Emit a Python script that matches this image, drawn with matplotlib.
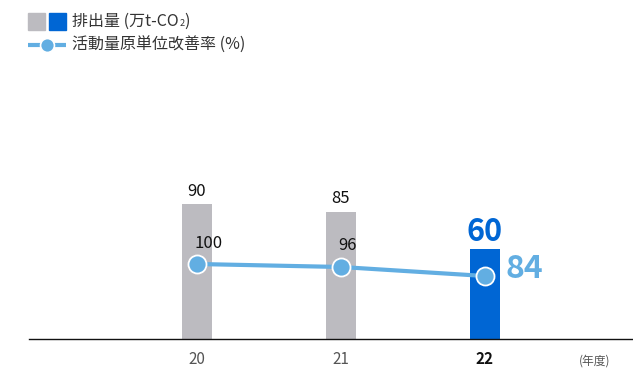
import matplotlib
matplotlib.use("Agg")
import matplotlib.pyplot as plt
from matplotlib.patches import Rectangle
from matplotlib.lines import Line2D

plt.rcParams['font.family'] = ['Noto Sans CJK JP', 'DejaVu Sans']

# Data
years = ["20", "21", "22"]
emissions = [90, 85, 60]          # 排出量 (万t-CO2)
improvement = [100, 96, 84]       # 活動量原単位改善率 (%)

GRAY = "#BCBBC0"
BLUE = "#0066D4"
LIGHT = "#62AEE2"
TEXT = "#333333"

W, H = 633, 371
fig = plt.figure(figsize=(W / 100, H / 100), dpi=100)

# main axes: x from px 29 to 633, y baseline at px 339, top at px 189
left, right = 29, 633
bottom, top = 339, 189
ax = fig.add_axes([left / W, 1 - bottom / H, (right - left) / W, (bottom - top) / H])
step = 144
x = list(range(len(years)))
ax.set_xlim(-(197 - left) / step, 2 + (right - 485) / step)
ax.set_ylim(0, 100)

colors = [GRAY, GRAY, BLUE]
ax.bar(x, emissions, width=30 / step, color=colors, zorder=2)

for spine in ["top", "right", "left"]:
    ax.spines[spine].set_visible(False)
ax.spines["bottom"].set_linewidth(1.0)
ax.spines["bottom"].set_color("#111111")
ax.set_yticks([])
ax.set_xticks(x)
ax.set_xticklabels(years, fontsize=11, color="#555555")
ax.tick_params(axis="x", length=0, pad=9)
ax.get_xticklabels()[-1].set_fontweight("bold")
ax.get_xticklabels()[-1].set_color("#111111")

# bar value labels
for i, v in enumerate(emissions[:-1]):
    ax.annotate(str(v), (x[i], v), xytext=(0, 3), textcoords="offset points",
                ha="center", va="bottom", fontsize=12, color="#111111")
ax.annotate(str(emissions[-1]), (x[-1], emissions[-1]), xytext=(0, 1),
            textcoords="offset points", ha="center", va="bottom",
            fontsize=22, fontweight="bold", color=BLUE)

# line on a twin scale (0-200)
ax2 = ax.twinx()
ax2.set_ylim(0, 200)
ax2.axis("off")
ax2.plot(x, improvement, color=LIGHT, lw=3, marker="o", markersize=13,
         markerfacecolor=LIGHT, markeredgecolor="white", markeredgewidth=1.3,
         zorder=3, solid_capstyle="butt")

for i, v in enumerate(improvement[:-1]):
    ax2.annotate(str(v), (x[i], v), xytext=(-2, 9), textcoords="offset points",
                 ha="left", va="bottom", fontsize=12, color="#111111")
ax2.annotate(str(improvement[-1]), (x[-1], improvement[-1]), xytext=(15, 5),
             textcoords="offset points", ha="left", va="center",
             fontsize=23, fontweight="bold", color=LIGHT)

# unit label
fig.text(595 / W, 1 - 361 / H, "(年度)", fontsize=8.5, color="#555555",
         ha="center", va="center")

# legend drawn in pixel coordinates
lg = fig.add_axes([0, 0, 1, 1], zorder=5)
lg.set_xlim(0, W)
lg.set_ylim(H, 0)
lg.axis("off")
lg.add_patch(Rectangle((28, 13), 17, 17, color=GRAY))
lg.add_patch(Rectangle((49, 13), 17, 17, color=BLUE))
t1 = lg.text(72, 21, "排出量 (万t-CO", fontsize=11.5, color=TEXT,
             ha="left", va="center")
renderer = fig.canvas.get_renderer()
bb = t1.get_window_extent(renderer)
x_end = bb.x1  # display px, same as figure px here
t2 = lg.text(x_end + 0.5, 24, "2", fontsize=6.5, color=TEXT, ha="left", va="center")
bb2 = t2.get_window_extent(renderer)
lg.text(bb2.x1 + 0.5, 21, ")", fontsize=11.5, color=TEXT, ha="left", va="center")
lg.add_line(Line2D([28, 66], [45, 45], color=LIGHT, lw=3, solid_capstyle="butt"))
lg.add_line(Line2D([47], [45], marker="o", markersize=10, color=LIGHT,
                   markeredgecolor="white", markeredgewidth=1.2))
lg.text(72, 45, "活動量原単位改善率 (%)", fontsize=11.5, color=TEXT,
        ha="left", va="center")

fig.savefig("out.png", dpi=100)
